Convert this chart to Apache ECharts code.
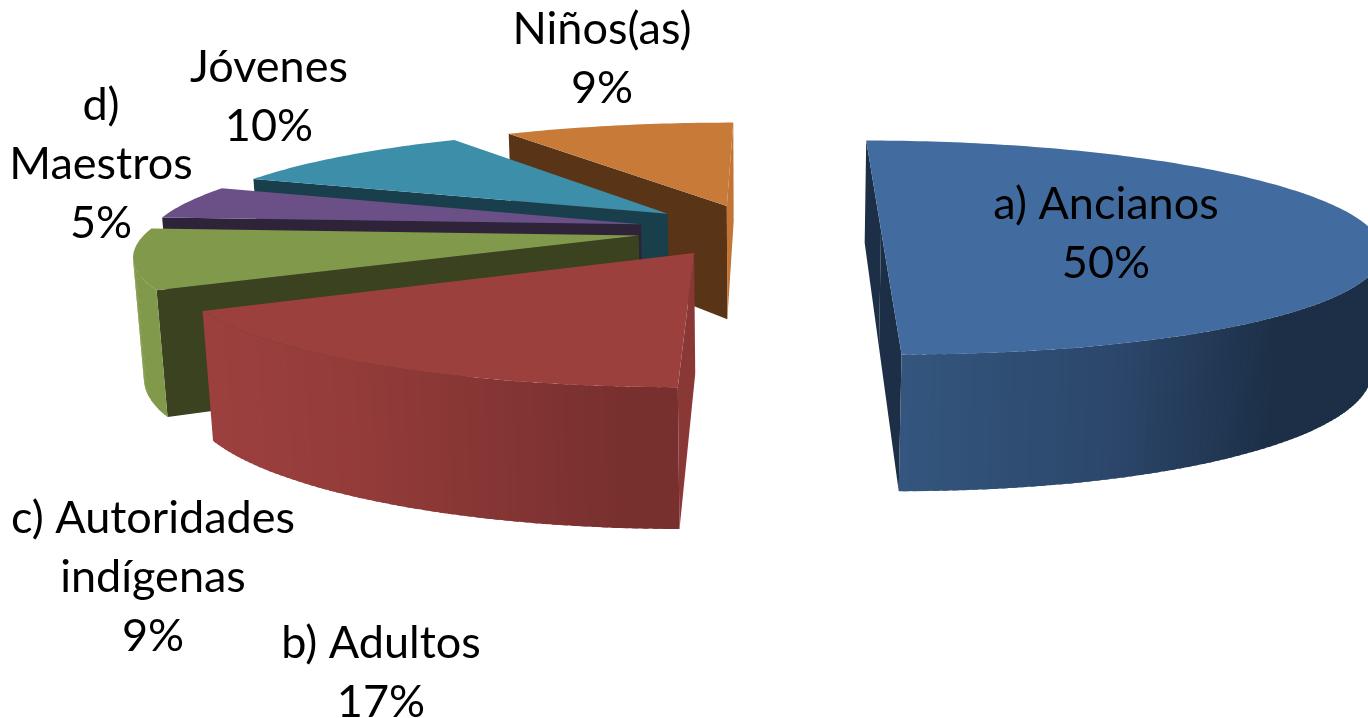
<!DOCTYPE html>
<html>
<head>
<meta charset="utf-8">
<style>html,body{margin:0;padding:0;background:#fff}#c{width:1368px;height:718px}</style>
<script src="https://cdn.jsdelivr.net/npm/echarts@6/dist/echarts.min.js"></script>
</head>
<body>
<div id="c"></div>
<script>
// ---- data ----
const categories = ['a) Ancianos', 'b) Adultos', 'c) Autoridades\nindígenas', 'd)\nMaestros', 'Jóvenes', 'Niños(as)'];
const values = [50, 17, 9, 5, 10, 9];

// ---- styles ----
const topColors = ['#426c9f', '#9c403e', '#81994a', '#6b5088', '#3d8ea8', '#c87a38'];
const startWalls = ['#1c2f47', '#8a3836', '#3a4220', '#2e2339', '#1a3f4c', '#5a3416'];
const endWalls = ['#1c2f47', '#78302f', '#3a4220', '#2e2339', '#1a3f4c', '#c27535'];
const outerStops = [
  [[900, '#34567e'], [1130, '#2b466a'], [1280, '#1c2f47'], [1368, '#1c2f47']],
  [[207, '#9c403e'], [350, '#943c3a'], [620, '#78302f'], [680, '#78302f']],
  [[0, '#81994a'], [1368, '#81994a']],
  [[0, '#6b5088'], [1368, '#6b5088']],
  [[0, '#3d8ea8'], [1368, '#3d8ea8']],
  [[0, '#c87a38'], [1368, '#c87a38']]
];
const drawOrder = [5, 4, 3, 2, 1, 0];
const labelPos = [[1106, 234], [381, 673], [153, 577], [101, 164], [269, 97], [602, 59]];

// ---- projection layout ----
const vx = 759, vy = 230, R = 491, explode = 122, D = 3030, k = 0.212, H = 119, Dy = 7000, rot = 0.3;
const total = values.reduce((a, b) => a + b, 0);
const rad = d => d * Math.PI / 180;
function project(X, Z, y) {
  const w = 1 / (1 - Z / D + y / Dy);
  return [vx + X * w, vy + (k * Z + y) * w];
}
function sliceAngles(i) {
  let s = 0;
  for (let j = 0; j < i; j++) s += values[j];
  return [s / total * 360 + rot, (s + values[i]) / total * 360 + rot];
}
function outerColor(i, x) {
  const st = outerStops[i];
  if (x <= st[0][0]) return st[0][1];
  for (let j = 1; j < st.length; j++) {
    if (x <= st[j][0]) {
      return echarts.color.lerp((x - st[j - 1][0]) / (st[j][0] - st[j - 1][0]), [st[j - 1][1], st[j][1]]);
    }
  }
  return st[st.length - 1][1];
}
function buildSlice(i) {
  const [a0, a1] = sliceAngles(i);
  const mid = rad((a0 + a1) / 2);
  const ox = Math.sin(mid) * explode, oz = -Math.cos(mid) * explode;
  const pt = (deg, r, y) => project(ox + Math.sin(rad(deg)) * r, oz - Math.cos(rad(deg)) * r, y);
  const arc = (from, to, y) => {
    const pts = [], n = Math.max(2, Math.ceil(Math.abs(to - from)));
    for (let m = 0; m <= n; m++) pts.push(pt(from + (to - from) * m / n, R, y));
    return pts;
  };
  const poly = (points, fill) => ({
    type: 'polygon', shape: { points }, silent: true,
    style: { fill, stroke: 'none' }
  });
  const seenFrom = (nDeg, X, Z) =>
    Math.sin(rad(nDeg)) * (0 - X) - Math.cos(rad(nDeg)) * (D - Z) > 0;
  const faces = deg => seenFrom(deg, ox + Math.sin(rad(deg)) * R, oz - Math.cos(rad(deg)) * R);
  const children = [];
  const wall = (deg, fill) => poly([pt(deg, 0, 0), pt(deg, R, 0), pt(deg, R, H), pt(deg, 0, H)], fill);
  if (seenFrom(a0 - 90, ox, oz)) children.push(wall(a0, startWalls[i]));
  if (seenFrom(a1 + 90, ox, oz)) children.push(wall(a1, endWalls[i]));
  const n = Math.ceil(a1 - a0);
  for (let m = 0; m < n; m++) {
    const d0 = a0 + (a1 - a0) * m / n, d1 = a0 + (a1 - a0) * (m + 1) / n;
    if (!faces((d0 + d1) / 2)) continue;
    const d2 = Math.min(a1, d1 + 0.6);   // overlap the next strip so no seam shows
    const p = pt(d0, R, 0);
    children.push(poly([p, pt(d2, R, 0), pt(d2, R, H), pt(d0, R, H)], outerColor(i, p[0])));
  }
  children.push(poly([pt(a0, 0, 0)].concat(arc(a0, a1, 0)), topColors[i]));
  return { type: 'group', children };
}

const chart = echarts.init(document.getElementById('c'), null, { renderer: 'canvas' });
chart.setOption({
  animation: false,
  backgroundColor: '#ffffff',
  series: [
    {
      type: 'custom',
      coordinateSystem: 'none',
      silent: true,
      data: drawOrder.map(i => [i, values[i]]),
      renderItem: (params, api) => buildSlice(api.value(0))
    },
    {
      type: 'custom',
      coordinateSystem: 'none',
      silent: true,
      z: 5,
      data: categories.map((c, i) => [i, values[i]]),
      renderItem: (params, api) => {
        const i = api.value(0);
        return {
          type: 'text',
          x: labelPos[i][0], y: labelPos[i][1],
          style: {
            text: categories[i] + '\n' + Math.round(api.value(1) / total * 100) + '%',
            fill: '#000',
            font: '45px Lato, "Noto Sans", sans-serif',
            lineHeight: 59,
            align: 'center',
            verticalAlign: 'middle'
          }
        };
      }
    }
  ]
});
</script>
</body>
</html>
